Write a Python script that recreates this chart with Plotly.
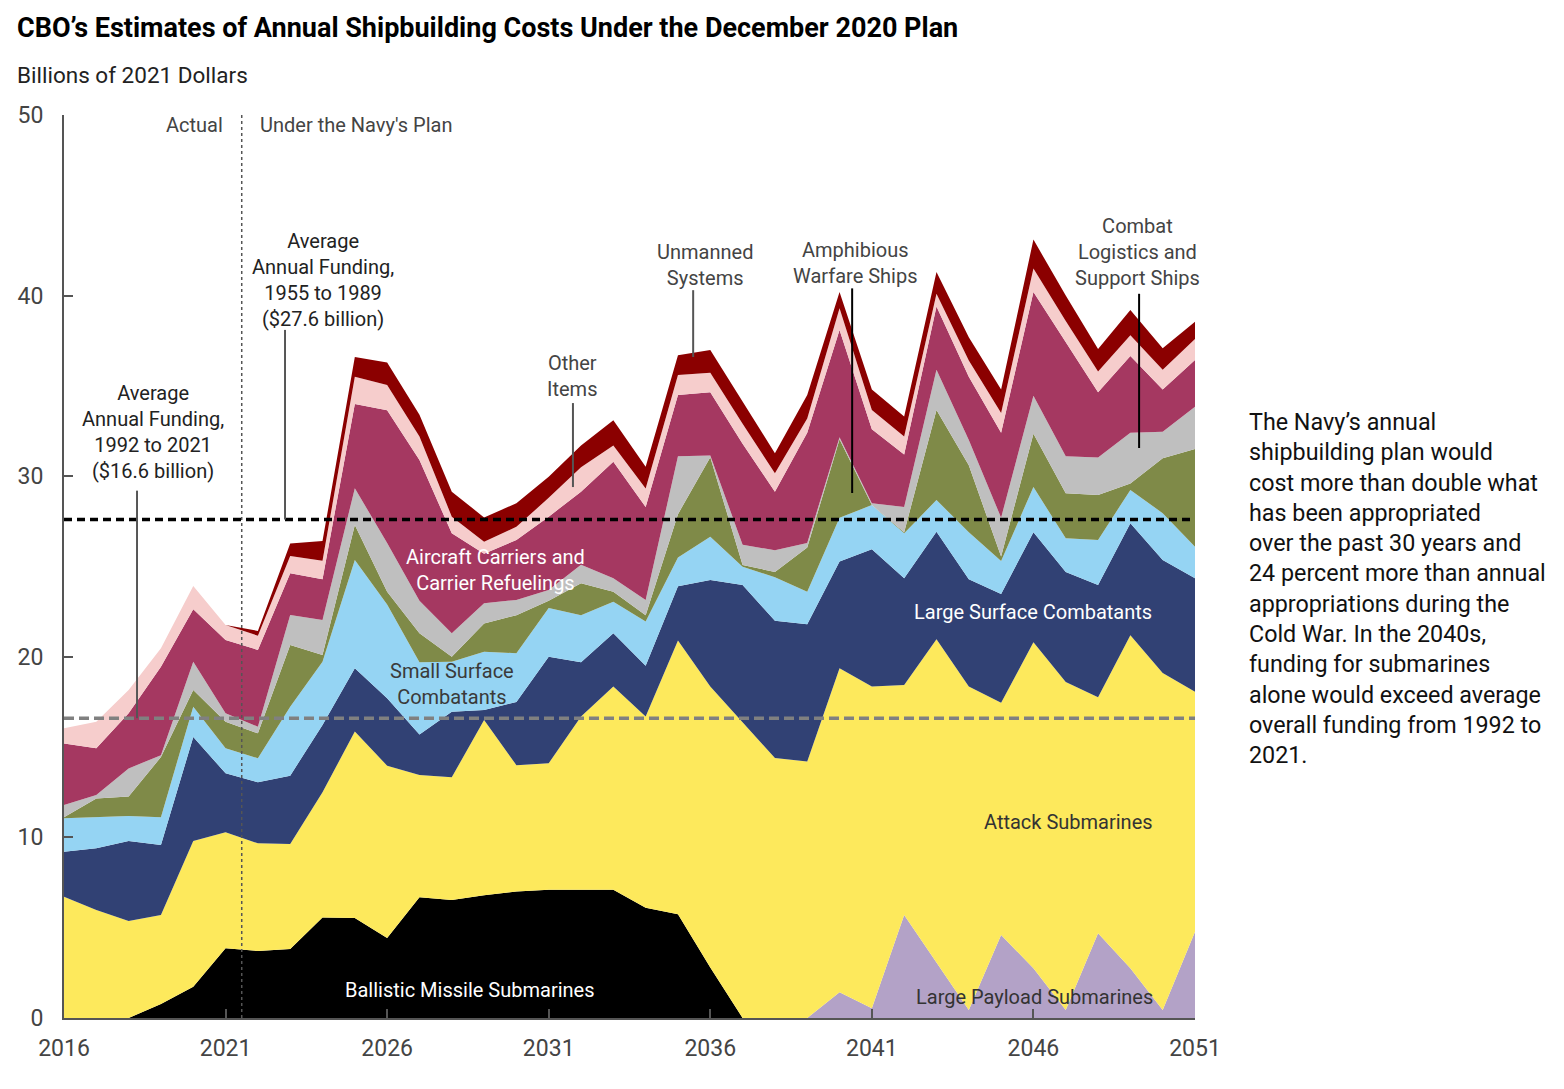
import plotly.graph_objects as go

years = list(range(2016, 2052))

ballistic = [0, 0, 0, 0.78, 1.73, 3.86, 3.71, 3.82, 5.57, 5.54, 4.43, 6.68, 6.53, 6.8, 7.0, 7.1, 7.1, 7.1, 6.1, 5.75,
             2.8, 0, 0, 0, 0, 0, 0, 0, 0, 0, 0, 0, 0, 0, 0, 0]
large_payload = [0] * 24 + [1.42, 0.54, 5.7, 3.06, 0.44, 4.6, 2.75, 0.44, 4.69, 2.75, 0.44, 4.78]
attack = [6.72, 5.98, 5.37, 4.92, 8.07, 6.42, 5.96, 5.81, 6.93, 10.32, 9.54, 6.77, 6.8, 9.7, 7.0, 7.0, 9.6, 11.25,
          10.6, 15.15, 15.55, 16.4, 14.4, 14.2, 17.94, 17.81, 12.74, 17.91, 17.91, 12.86, 18.05, 18.16, 13.07, 18.45,
          18.66, 13.29]
large_surface = [2.49, 3.42, 4.43, 3.88, 5.76, 3.27, 3.38, 3.79, 3.72, 3.5, 3.73, 2.25, 3.63, 0.55, 3.5, 5.9, 3.0,
                 2.95, 2.8, 3.0, 5.9, 7.57, 7.6, 7.6, 5.91, 7.6, 5.91, 5.96, 5.95, 6.02, 6.1, 6.1, 6.22, 6.2, 6.26, 6.28]
small_surface = [1.85, 1.7, 1.38, 1.54, 1.68, 1.38, 1.33, 3.82, 3.51, 6.0, 5.2, 4.0, 2.77, 3.23, 2.7, 2.7, 2.6, 1.75,
                 2.45, 1.6, 2.4, 1.02, 2.4, 1.8, 2.43, 2.45, 2.49, 1.75, 2.6, 1.82, 2.5, 1.86, 2.49, 1.84, 2.59, 1.75]
amphibious = [0.06, 1.06, 1.08, 3.33, 0.92, 1.47, 1.38, 3.41, 0.37, 1.94, 0.7, 1.6, 0.27, 1.57, 2.1, 0.4, 1.77, 0.55,
              0.35, 2.4, 4.4, 0.09, 0.3, 2.45, 4.35, 0.0, 0.06, 4.99, 3.7, 0.25, 2.95, 2.49, 2.49, 0.36, 3.05, 5.4]
logistics = [0.68, 0.19, 1.56, 0.1, 1.57, 0.47, 0.37, 1.66, 1.94, 2.03, 2.7, 1.8, 1.3, 1.11, 0.85, 0.6, 1.03, 0.75,
             0.85, 3.2, 0.1, 1.12, 1.2, 0.25, 0.1, 0.1, 1.4, 2.23, 1.4, 2.15, 2.1, 2.05, 2.08, 2.8, 1.46, 2.35]
carriers = [3.4, 2.58, 3.05, 4.9, 2.9, 4.06, 4.25, 2.31, 2.26, 4.67, 7.35, 7.8, 5.54, 2.74, 3.32, 4.06, 4.04, 6.45,
            5.15, 3.4, 3.5, 5.6, 3.24, 6.1, 5.95, 4.1, 2.9, 3.5, 3.5, 4.7, 5.75, 6.3, 3.61, 4.25, 2.34, 2.58]
other_items = [0.84, 1.47, 1.29, 1.02, 1.29, 0.83, 0.79, 0.96, 1.02, 1.5, 1.4, 1.3, 0.92, 0.67, 0.73, 1.04, 1.36, 0.9,
               1.02, 1.1, 1.08, 1.1, 1.02, 0.8, 1.2, 1.07, 1.0, 0.7, 0.9, 1.1, 1.3, 1.2, 1.15, 1.15, 1.1, 1.17]
unmanned = [0, 0, 0, 0, 0, 0, 0.26, 0.7, 1.09, 1.1, 1.25, 1.2, 1.38, 1.35, 1.3, 1.17, 1.2, 1.4, 1.21, 1.1, 1.26, 1.2,
            1.11, 1.3, 0.9, 1.13, 1.1, 1.2, 1.3, 1.3, 1.6, 1.4, 1.25, 1.4, 1.18, 0.95]

avg_1992_2021 = 16.6
avg_1955_1989 = 27.6
plan_start = 2021.5

x_ticks = [2016, 2021, 2026, 2031, 2036, 2041, 2046, 2051]
y_ticks = [0, 10, 20, 30, 40, 50]

series = [
    ("Ballistic Missile Submarines", ballistic, "#000000"),
    ("Large Payload Submarines", large_payload, "#b3a2c7"),
    ("Attack Submarines", attack, "#fde95c"),
    ("Large Surface Combatants", large_surface, "#314174"),
    ("Small Surface Combatants", small_surface, "#95d4f3"),
    ("Amphibious Warfare Ships", amphibious, "#7f8a48"),
    ("Combat Logistics and Support Ships", logistics, "#bfbfbf"),
    ("Aircraft Carriers and Carrier Refuelings", carriers, "#a53861"),
    ("Other Items", other_items, "#f6cdcc"),
    ("Unmanned Systems", unmanned, "#8b0000"),
]

FONT = "Roboto"
fig = go.Figure()
for name, vals, col in series:
    fig.add_trace(go.Scatter(
        x=years, y=vals, name=name, mode="lines", stackgroup="one",
        line=dict(width=0, color=col), fillcolor=col, hoverinfo="x+y+name",
    ))

shapes = [
    dict(type="line", xref="x", yref="y", x0=2016, x1=2051, y0=avg_1992_2021, y1=avg_1992_2021,
         line=dict(color="#808080", width=3.5, dash="10px,5px")),
    dict(type="line", xref="x", yref="y", x0=2016, x1=2051, y0=avg_1955_1989, y1=avg_1955_1989,
         line=dict(color="#000000", width=3.5, dash="8px,5px")),
    dict(type="line", xref="x", yref="y", x0=plan_start, x1=plan_start, y0=0, y1=50,
         line=dict(color="#555555", width=1.5, dash="3px,3px")),
]


def pointer(x, y0, y1, color="#555555"):
    shapes.append(dict(type="line", xref="x", yref="y", x0=x, x1=x, y0=y0, y1=y1,
                       line=dict(color=color, width=2)))


pointer(2018.26, 29.2, avg_1992_2021)
pointer(2022.84, 38.1, avg_1955_1989)
pointer(2031.75, 34.05, 29.4)
pointer(2035.47, 40.3, 36.6)
pointer(2040.39, 40.4, 29.07, "#000000")
pointer(2049.27, 40.1, 31.56, "#000000")

ann = []


def label(text, x, y, color="#444444", size=20, xanchor="center", align="center"):
    ann.append(dict(text=text, x=x, y=y, xref="x", yref="y", showarrow=False, xanchor=xanchor,
                    yanchor="middle", align=align, font=dict(family=FONT, size=size, color=color)))


label("Actual", 2020.98, 49.45, xanchor="right")
label("Under the Navy's Plan", 2022.0, 49.45, xanchor="left")
label("Average<br>Annual Funding,<br>1992 to 2021<br>($16.6 billion)", 2018.75, 32.45, color="#222222")
label("Average<br>Annual Funding,<br>1955 to 1989<br>($27.6 billion)", 2024.02, 40.86, color="#222222")
label("Other<br>Items", 2031.72, 35.55)
label("Unmanned<br>Systems", 2035.84, 41.72)
label("Amphibious<br>Warfare Ships", 2040.48, 41.83)
label("Combat<br>Logistics and<br>Support Ships", 2049.21, 42.44)
label("Aircraft Carriers and<br>Carrier Refuelings", 2029.34, 24.83, color="#ffffff")
label("Small Surface<br>Combatants", 2028.01, 18.52, color="#3a3a3a")
label("Large Surface Combatants", 2045.99, 22.48, color="#ffffff")
label("Attack Submarines", 2049.77, 10.85, color="#333333", xanchor="right")
label("Ballistic Missile Submarines", 2028.57, 1.55, color="#ffffff")
label("Large Payload Submarines", 2049.77, 1.16, color="#333333", xanchor="right")

ann.append(dict(text="<b>CBO’s Estimates of Annual Shipbuilding Costs Under the December 2020 Plan</b>",
                xref="paper", yref="paper", x=-0.0433, y=1.0963, xanchor="left", yanchor="middle",
                showarrow=False, font=dict(family=FONT, size=27, color="#000000")))
ann.append(dict(text="Billions of 2021 Dollars", xref="paper", yref="paper", x=-0.0433, y=1.0443,
                xanchor="left", yanchor="middle", showarrow=False,
                font=dict(family=FONT, size=22.5, color="#222222")))
ann.append(dict(text=("The Navy’s annual<br>shipbuilding plan would<br>cost more than double what<br>"
                      "has been appropriated<br>over the past 30 years and<br>24 percent more than annual<br>"
                      "appropriations during the<br>Cold War. In the 2040s,<br>funding for submarines<br>"
                      "alone would exceed average<br>overall funding from 1992 to<br>2021."),
                xref="paper", yref="paper", x=1.0460, y=0.476, xanchor="left", yanchor="middle",
                align="left", showarrow=False, font=dict(family=FONT, size=23.3, color="#111111")))

fig.update_layout(
    width=1564, height=1089,
    margin=dict(l=64, r=369, t=115, b=71),
    paper_bgcolor="white", plot_bgcolor="white",
    showlegend=False,
    shapes=shapes, annotations=ann,
    font=dict(family=FONT, color="#444444"),
)
fig.update_xaxes(range=[2016, 2051], tickvals=x_ticks, ticks="inside", ticklen=9, tickwidth=2,
                 tickcolor="#555555", showline=True, linecolor="#555555", linewidth=2, showgrid=False,
                 zeroline=False, tickfont=dict(family=FONT, size=23, color="#444444"), ticklabelstandoff=8)
fig.update_yaxes(range=[0, 50], tickvals=y_ticks, ticks="inside", ticklen=9, tickwidth=2,
                 tickcolor="#555555", showline=True, linecolor="#555555", linewidth=2, showgrid=False,
                 zeroline=False, tickfont=dict(family=FONT, size=23, color="#444444"), ticklabelstandoff=14)

fig.write_html("out.html", config={"displayModeBar": False},
               post_script="document.body.style.margin='0';document.body.style.overflow='hidden';")
